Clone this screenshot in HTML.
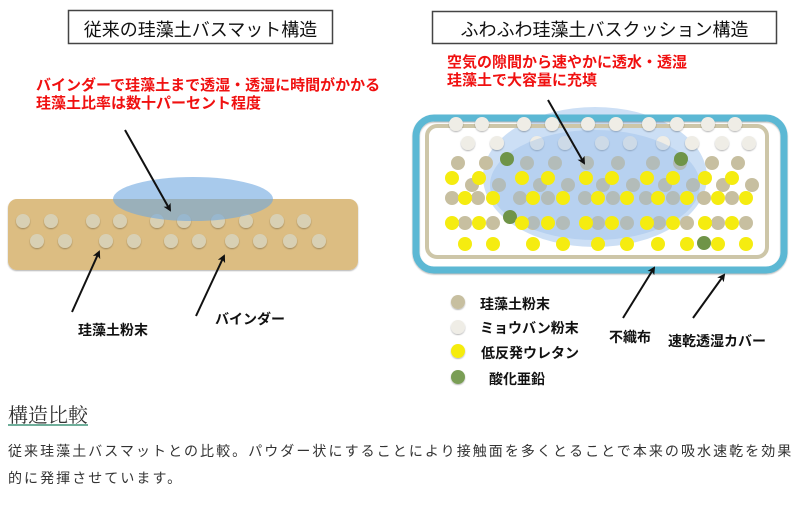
<!DOCTYPE html>
<html><head><meta charset="utf-8"><style>
body{margin:0;width:800px;height:509px;background:#fff;overflow:hidden;position:relative;font-family:"Liberation Sans","Noto Sans CJK JP",sans-serif}
.t{position:absolute;white-space:nowrap}
</style></head><body>
<svg width="800" height="400" style="position:absolute;left:0;top:0">
<defs>
<marker id="ah" markerWidth="8" markerHeight="8" refX="6" refY="4" orient="auto" markerUnits="userSpaceOnUse"><path d="M0,0 L8,4 L0,8 L2,4 Z" fill="#111"/></marker>
<filter id="sh"><feDropShadow dx="0" dy="1" stdDeviation="0.8" flood-color="#000" flood-opacity="0.3"/></filter>
</defs>
<rect x="68.5" y="10.5" width="264" height="33" fill="#fff" stroke="#444" stroke-width="1.5"/>
<rect x="432.5" y="11.5" width="344" height="32" fill="#fff" stroke="#444" stroke-width="1.5"/>
<rect x="8" y="199" width="350" height="71" rx="9" fill="#dcbd82" filter="url(#sh)"/>
<g fill="#d8d0b4" filter="url(#sh)">
<circle cx="23" cy="221" r="7"/><circle cx="51" cy="221" r="7"/><circle cx="93" cy="221" r="7"/><circle cx="120" cy="221" r="7"/><circle cx="157" cy="221" r="7"/><circle cx="184" cy="221" r="7"/><circle cx="218" cy="221" r="7"/><circle cx="246" cy="221" r="7"/><circle cx="277" cy="221" r="7"/><circle cx="304" cy="221" r="7"/>
<circle cx="37" cy="241" r="7"/><circle cx="65" cy="241" r="7"/><circle cx="106" cy="241" r="7"/><circle cx="134" cy="241" r="7"/><circle cx="171" cy="241" r="7"/><circle cx="199" cy="241" r="7"/><circle cx="232" cy="241" r="7"/><circle cx="260" cy="241" r="7"/><circle cx="290" cy="241" r="7"/><circle cx="319" cy="241" r="7"/>
</g>
<ellipse cx="193" cy="199" rx="80" ry="22" fill="#6ea6e0" opacity="0.6"/>
<line x1="125" y1="130" x2="170" y2="210" stroke="#111" stroke-width="2" marker-end="url(#ah)"/>
<line x1="72" y1="312" x2="99" y2="252" stroke="#111" stroke-width="2" marker-end="url(#ah)"/>
<line x1="196" y1="316" x2="224" y2="256" stroke="#111" stroke-width="2" marker-end="url(#ah)"/>
<ellipse cx="595" cy="177" rx="112" ry="70" fill="#8fb8e8" opacity="0.45"/>
<rect x="416" y="118" width="368" height="152" rx="18" fill="none" stroke="#5bb8d4" stroke-width="7" filter="url(#sh)"/>
<rect x="427" y="126" width="340" height="131" rx="10" fill="none" stroke="#cdc6a8" stroke-width="4"/>
<g fill="#efede6" filter="url(#sh)">
<circle cx="456" cy="124" r="7"/><circle cx="482" cy="124" r="7"/><circle cx="524" cy="124" r="7"/><circle cx="552" cy="124" r="7"/><circle cx="588" cy="124" r="7"/><circle cx="616" cy="124" r="7"/><circle cx="649" cy="124" r="7"/><circle cx="677" cy="124" r="7"/><circle cx="708" cy="124" r="7"/><circle cx="735" cy="124" r="7"/>
<circle cx="468" cy="143" r="7"/><circle cx="497" cy="143" r="7"/><circle cx="537" cy="143" r="7"/><circle cx="565" cy="143" r="7"/><circle cx="602" cy="143" r="7"/><circle cx="630" cy="143" r="7"/><circle cx="663" cy="143" r="7"/><circle cx="692" cy="143" r="7"/><circle cx="722" cy="143" r="7"/><circle cx="749" cy="143" r="7"/>
</g>
<g fill="#c7bfa0">
<circle cx="458" cy="163" r="7"/><circle cx="486" cy="163" r="7"/><circle cx="527" cy="163" r="7"/><circle cx="555" cy="163" r="7"/><circle cx="587" cy="163" r="7"/><circle cx="618" cy="163" r="7"/><circle cx="653" cy="163" r="7"/><circle cx="680" cy="163" r="7"/><circle cx="712" cy="163" r="7"/><circle cx="738" cy="163" r="7"/>
<circle cx="472" cy="185" r="7"/><circle cx="499" cy="185" r="7"/><circle cx="540" cy="185" r="7"/><circle cx="568" cy="185" r="7"/><circle cx="603" cy="185" r="7"/><circle cx="633" cy="185" r="7"/><circle cx="665" cy="185" r="7"/><circle cx="693" cy="185" r="7"/><circle cx="723" cy="185" r="7"/><circle cx="752" cy="185" r="7"/>
<circle cx="452" cy="198" r="7"/><circle cx="478" cy="198" r="7"/><circle cx="520" cy="198" r="7"/><circle cx="548" cy="198" r="7"/><circle cx="585" cy="198" r="7"/><circle cx="613" cy="198" r="7"/><circle cx="646" cy="198" r="7"/><circle cx="673" cy="198" r="7"/><circle cx="704" cy="198" r="7"/><circle cx="732" cy="198" r="7"/>
<circle cx="465" cy="223" r="7"/><circle cx="493" cy="223" r="7"/><circle cx="533" cy="223" r="7"/><circle cx="563" cy="223" r="7"/><circle cx="598" cy="223" r="7"/><circle cx="627" cy="223" r="7"/><circle cx="659" cy="223" r="7"/><circle cx="687" cy="223" r="7"/><circle cx="718" cy="223" r="7"/><circle cx="746" cy="223" r="7"/>
</g>
<ellipse cx="595" cy="185" rx="105" ry="55" fill="#8fb8e8" opacity="0.35"/>
<g fill="#6f9448"><circle cx="507" cy="159" r="7"/><circle cx="681" cy="159" r="7"/><circle cx="510" cy="217" r="7"/><circle cx="704" cy="243" r="7"/></g>
<g fill="#f5ec10">
<circle cx="452" cy="178" r="7"/><circle cx="479" cy="178" r="7"/><circle cx="522" cy="178" r="7"/><circle cx="548" cy="178" r="7"/><circle cx="586" cy="178" r="7"/><circle cx="612" cy="178" r="7"/><circle cx="647" cy="178" r="7"/><circle cx="673" cy="178" r="7"/><circle cx="705" cy="178" r="7"/><circle cx="732" cy="178" r="7"/>
<circle cx="465" cy="198" r="7"/><circle cx="493" cy="198" r="7"/><circle cx="533" cy="198" r="7"/><circle cx="563" cy="198" r="7"/><circle cx="598" cy="198" r="7"/><circle cx="627" cy="198" r="7"/><circle cx="658" cy="198" r="7"/><circle cx="687" cy="198" r="7"/><circle cx="718" cy="198" r="7"/><circle cx="746" cy="198" r="7"/>
<circle cx="452" cy="223" r="7"/><circle cx="479" cy="223" r="7"/><circle cx="522" cy="223" r="7"/><circle cx="548" cy="223" r="7"/><circle cx="586" cy="223" r="7"/><circle cx="612" cy="223" r="7"/><circle cx="647" cy="223" r="7"/><circle cx="673" cy="223" r="7"/><circle cx="705" cy="223" r="7"/><circle cx="732" cy="223" r="7"/>
<circle cx="465" cy="244" r="7"/><circle cx="493" cy="244" r="7"/><circle cx="533" cy="244" r="7"/><circle cx="563" cy="244" r="7"/><circle cx="598" cy="244" r="7"/><circle cx="627" cy="244" r="7"/><circle cx="658" cy="244" r="7"/><circle cx="687" cy="244" r="7"/><circle cx="718" cy="244" r="7"/><circle cx="746" cy="244" r="7"/>
</g>
<line x1="548" y1="100" x2="584" y2="163" stroke="#111" stroke-width="2" marker-end="url(#ah)"/>
<line x1="623" y1="318" x2="654" y2="268" stroke="#111" stroke-width="2" marker-end="url(#ah)"/>
<line x1="693" y1="318" x2="724" y2="275" stroke="#111" stroke-width="2" marker-end="url(#ah)"/>
<circle cx="458" cy="302" r="7" fill="#c7bfa0" filter="url(#sh)"/>
<circle cx="458" cy="327" r="7" fill="#efede6" filter="url(#sh)"/>
<circle cx="458" cy="351" r="7" fill="#f5ec10" filter="url(#sh)"/>
<circle cx="458" cy="377" r="7" fill="#7a9e55" filter="url(#sh)"/>
</svg>
<div class="t" style="left:68px;top:16px;width:265px;text-align:center;font-size:18px;color:#111">従来の珪藻土バスマット構造</div>
<div class="t" style="left:432px;top:16px;width:345px;text-align:center;font-size:18px;color:#111">ふわふわ珪藻土バスクッション構造</div>
<div class="t" style="left:36px;top:77px;font-size:15px;line-height:18px;color:#f01010;font-weight:bold">バインダーで珪藻土まで透湿・透湿に時間がかかる<br>珪藻土比率は数十パーセント程度</div>
<div class="t" style="left:447px;top:54px;font-size:15px;line-height:18px;color:#f01010;font-weight:bold">空気の隙間から速やかに透水・透湿<br>珪藻土で大容量に充填</div>
<div class="t" style="left:78px;top:320px;font-size:14px;font-weight:bold;color:#111">珪藻土粉末</div>
<div class="t" style="left:215px;top:309px;font-size:14px;font-weight:bold;color:#111">バインダー</div>
<div class="t" style="left:480px;top:294px;font-size:14px;font-weight:bold;color:#111">珪藻土粉末</div>
<div class="t" style="left:480px;top:318px;font-size:14px;font-weight:bold;color:#111">ミョウバン粉末</div>
<div class="t" style="left:481px;top:343px;font-size:14px;font-weight:bold;color:#111">低反発ウレタン</div>
<div class="t" style="left:489px;top:369px;font-size:14px;font-weight:bold;color:#111">酸化亜鉛</div>
<div class="t" style="left:609px;top:327px;font-size:14px;font-weight:bold;color:#111">不織布</div>
<div class="t" style="left:668px;top:331px;font-size:14px;font-weight:bold;color:#111">速乾透湿カバー</div>
<div class="t" style="left:8px;top:399px;font-size:20px;color:#333;font-family:'Liberation Serif','Noto Serif CJK SC',serif">構造比較</div>
<div style="position:absolute;left:8px;top:424px;width:80px;height:2px;background:#6fae9a"></div>
<div class="t" style="left:8px;top:438px;font-size:14px;line-height:27px;color:#333;letter-spacing:2.05px">従来珪藻土バスマットとの比較。パウダー状にすることにより接触面を多くとることで本来の吸水速乾を効果<br>的に発揮させています。</div>
</body></html>
